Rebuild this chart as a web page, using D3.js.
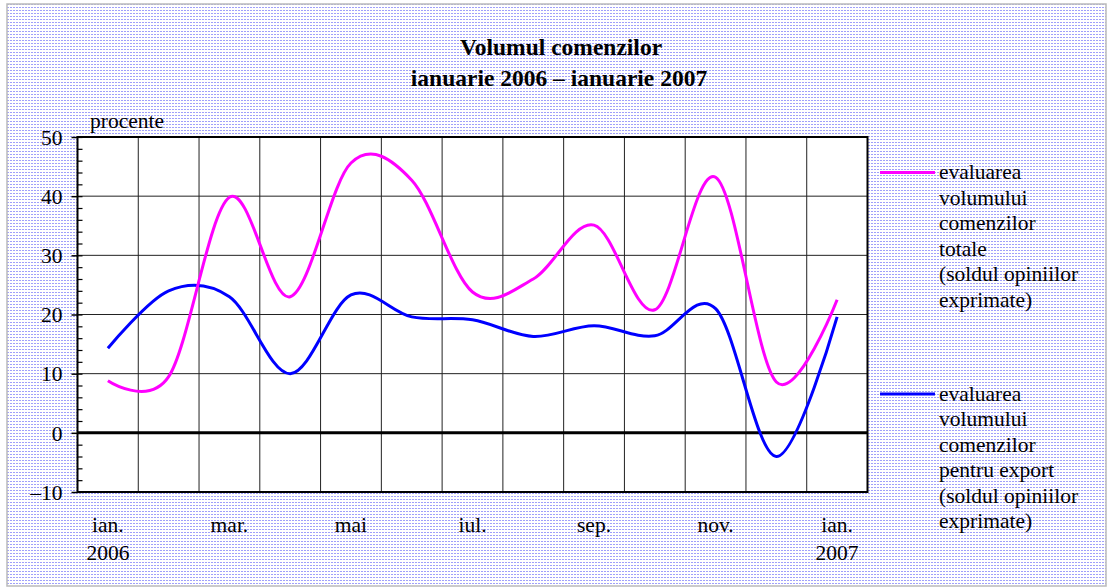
<!DOCTYPE html>
<meta charset="utf-8">
<style>

body { margin: 0; background: #fff; }
text { font-family: "Liberation Serif", "Times New Roman", serif; fill: #000; }
.grid line { stroke: #222; stroke-width: 1px; }
.line { fill: none; stroke-width: 3px; }

</style>
<body>

<script src="https://cdn.jsdelivr.net/npm/d3@7"></script>
<script>

// data
var months = ["ian.", "feb.", "mar.", "apr.", "mai", "iun.", "iul.", "aug.", "sep.", "oct.", "nov.", "dec.", "ian."];
var years = ["2006", "", "", "", "", "", "", "", "", "", "", "", "2007"];
var totale = [8.8, 9.5, 39.8, 23.0, 45.6, 42.7, 23.8, 26.0, 35.1, 20.8, 43.2, 8.6, 22.5];
var exportVals = [14.3, 24.0, 23.0, 10.0, 23.3, 19.6, 19.1, 16.3, 18.1, 16.4, 21.0, -4.0, 19.6];
var yTicks = [-10, 0, 10, 20, 30, 40, 50];
var legendTotale = ["evaluarea", "volumului", "comenzilor", "totale", "(soldul opiniilor", "exprimate)"];
var legendExport = ["evaluarea", "volumului", "comenzilor", "pentru export", "(soldul opiniilor", "exprimate)"];

var W = 1110, H = 587;
// plot box
var pL = 77.5, pR = 867.5, pT = 137, pB = 492;

var svg = d3.select("body").append("svg")
    .attr("width", W)
    .attr("height", H);

// dotted background
var pat = svg.append("defs").append("pattern")
    .attr("id", "dots")
    .attr("patternUnits", "userSpaceOnUse")
    .attr("width", 3)
    .attr("height", 3);
pat.append("rect").attr("width", 3).attr("height", 3).attr("fill", "#fff");
pat.append("rect").attr("x", 1).attr("y", 1).attr("width", 2).attr("height", 1).attr("fill", "#a0a0fa");

svg.append("rect")
    .attr("x", 7).attr("y", 4)
    .attr("width", 1099).attr("height", 582)
    .attr("fill", "url(#dots)")
    .attr("stroke", "#bbb")
    .attr("stroke-width", 1.5);

// scales
var x = d3.scaleBand().domain(d3.range(months.length)).range([pL, pR]);
var y = d3.scaleLinear().domain([-10, 50]).range([pB, pT]);
var cx = function(i) { return x(i) + x.bandwidth() / 2; };

// plot area
svg.append("rect")
    .attr("x", pL).attr("y", pT)
    .attr("width", pR - pL).attr("height", pB - pT)
    .attr("fill", "#fff");

// grid
var grid = svg.append("g").attr("class", "grid");
grid.selectAll(".v")
    .data(d3.range(1, months.length)).enter()
    .append("line")
    .attr("x1", function(i) { return x(i); })
    .attr("x2", function(i) { return x(i); })
    .attr("y1", pT)
    .attr("y2", pB);
grid.selectAll(".h")
    .data(yTicks.filter(function(d) { return d !== 0 && d !== -10 && d !== 50; })).enter()
    .append("line")
    .attr("x1", pL)
    .attr("x2", pR)
    .attr("y1", function(d) { return y(d); })
    .attr("y2", function(d) { return y(d); });

// y axis, major ticks outside
var yAxis = svg.append("g")
    .attr("transform", "translate(" + pL + ",0)")
    .call(d3.axisLeft(y).tickValues(yTicks).tickSize(6).tickPadding(9)
      .tickFormat(function(d) { return d < 0 ? "\u2013" + (-d) : d; }));
yAxis.select(".domain").remove();
yAxis.selectAll(".tick line").attr("stroke", "#000").attr("stroke-width", 1.5);
yAxis.selectAll("text")
    .style("font-family", "Liberation Serif")
    .style("font-size", "21.5px")
    .attr("dy", "0.34em");

// minor ticks inside
svg.append("g")
    .attr("transform", "translate(" + pL + ",0)")
    .call(d3.axisRight(y).tickValues(d3.range(-10, 51, 2)).tickSize(5).tickFormat(""))
    .call(function(g) {
      g.select(".domain").remove();
      g.selectAll(".tick line").attr("stroke", "#000").attr("stroke-width", 1.2);
    });

// zero line
svg.append("line")
    .attr("x1", pL).attr("x2", pR)
    .attr("y1", y(0)).attr("y2", y(0))
    .attr("stroke", "#000")
    .attr("stroke-width", 3);

// frame
svg.append("rect")
    .attr("x", pL).attr("y", pT)
    .attr("width", pR - pL).attr("height", pB - pT)
    .attr("fill", "none")
    .attr("stroke", "#000")
    .attr("stroke-width", 2);

// lines
var line = d3.line()
    .x(function(d, i) { return cx(i); })
    .y(function(d) { return y(d); })
    .curve(d3.curveCardinal.tension(0));

svg.append("path")
    .datum(exportVals)
    .attr("class", "line")
    .attr("stroke", "#0000ff")
    .attr("d", line);

svg.append("path")
    .datum(totale)
    .attr("class", "line")
    .attr("stroke", "#ff00ff")
    .attr("d", line);

// x labels, every second month
var xl = svg.append("g");
xl.selectAll(".m")
    .data(months.map(function(d, i) { return {t: d, i: i}; })
      .filter(function(d) { return d.i % 2 === 0; })).enter()
    .append("text")
    .attr("x", function(d) { return cx(d.i); })
    .attr("y", 532)
    .attr("text-anchor", "middle")
    .style("font-size", "21.5px")
    .text(function(d) { return d.t; });
xl.selectAll(".yr")
    .data(years).enter()
    .append("text")
    .attr("x", function(d, i) { return cx(i); })
    .attr("y", 560)
    .attr("text-anchor", "middle")
    .style("font-size", "21.5px")
    .text(function(d) { return d; });

// unit label
svg.append("text")
    .attr("x", 90).attr("y", 128)
    .style("font-size", "21.5px")
    .text("procente");

// title
svg.append("text")
    .attr("x", 561).attr("y", 55)
    .attr("text-anchor", "middle")
    .style("font-size", "23.5px")
    .style("font-weight", "bold")
    .text("Volumul comenzilor");
svg.append("text")
    .attr("x", 559).attr("y", 86)
    .attr("text-anchor", "middle")
    .style("font-size", "23.5px")
    .style("font-weight", "bold")
    .text("ianuarie 2006 \u2013 ianuarie 2007");

// legend
function legend(lines, color, ly) {
  var g = svg.append("g");
  g.append("line")
    .attr("x1", 880).attr("x2", 935)
    .attr("y1", ly).attr("y2", ly)
    .attr("stroke", color)
    .attr("stroke-width", 3);
  g.selectAll("text")
    .data(lines).enter()
    .append("text")
    .attr("x", 939)
    .attr("y", function(d, i) { return ly + 6.8 + i * 25.5; })
    .style("font-size", "21.5px")
    .text(function(d) { return d; });
}
legend(legendTotale, "#ff00ff", 172.5);
legend(legendExport, "#0000ff", 394);

</script>
</body>
